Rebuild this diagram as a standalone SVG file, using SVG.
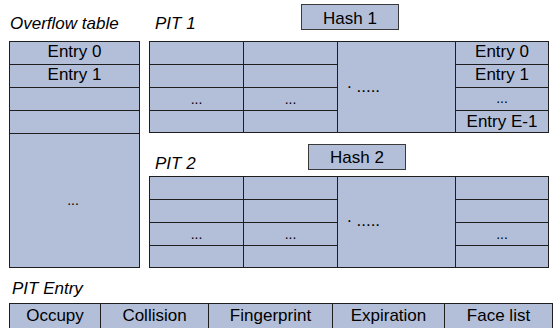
<svg xmlns="http://www.w3.org/2000/svg" width="553" height="328" viewBox="0 0 553 328">
<style>
.c{fill:#B3BFD9;stroke:#1e1e1e;stroke-width:1}
.h{fill:#B3BFD9;stroke:#3a3a3a;stroke-width:1}
.l{stroke:#1e1e1e;stroke-width:1;fill:none}
text{font-family:"Liberation Sans",Arial,sans-serif;fill:#000}
.t{font-size:17px;text-anchor:middle}
.i{font-size:17px;font-style:italic}
.d{font-size:14px;text-anchor:middle}
.m{font-size:17px}
</style>
<rect width="553" height="328" fill="#fff"/>
<text class="i" x="10" y="29">Overflow table</text>
<text class="i" x="155" y="29">PIT 1</text>
<text class="i" x="155" y="169">PIT 2</text>
<text class="i" x="12" y="294">PIT Entry</text>

<g id="overflow">
<rect class="c" x="9.5" y="41.5" width="130" height="226"/>
<path class="l" d="M9.5 64.5H139.5M9.5 87.5H139.5M9.5 110.5H139.5M9.5 133.5H139.5"/>
<text class="t" x="74.5" y="57">Entry 0</text>
<text class="t" x="74.5" y="80">Entry 1</text>
<text class="d" x="73" y="205">...</text>
</g>

<g id="hash1">
<rect class="h" x="301.5" y="4.5" width="97" height="25"/>
<text class="t" x="350" y="23.5">Hash 1</text>
</g>

<g id="pit1">
<rect class="c" x="149.5" y="41.5" width="399" height="91"/>
<path class="l" d="M243.5 41.5V132.5M337.5 41.5V132.5M455.5 41.5V132.5M149.5 64.5H337.5M149.5 87.5H337.5M149.5 110.5H337.5M455.5 64.5H548.5M455.5 87.5H548.5M455.5 110.5H548.5"/>
<text class="d" x="196.5" y="104">...</text>
<text class="d" x="290.5" y="104">...</text>
<text class="m" x="347" y="87.5">.<tspan dy="4"> .....</tspan></text>
<text class="t" x="502" y="57">Entry 0</text>
<text class="t" x="502" y="80">Entry 1</text>
<text class="d" x="502" y="103">...</text>
<text class="t" x="502" y="127">Entry E-1</text>
</g>

<g id="hash2">
<rect class="h" x="308.5" y="144.5" width="97" height="25"/>
<text class="t" x="357" y="163">Hash 2</text>
</g>

<g id="pit2">
<rect class="c" x="149.5" y="176.5" width="399" height="91"/>
<path class="l" d="M243.5 176.5V267.5M337.5 176.5V267.5M455.5 176.5V267.5M149.5 199.5H337.5M149.5 222.5H337.5M149.5 245.5H337.5M455.5 199.5H548.5M455.5 222.5H548.5M455.5 245.5H548.5"/>
<text class="d" x="196.5" y="239">...</text>
<text class="d" x="290.5" y="239">...</text>
<text class="m" x="347" y="222">.<tspan dy="4"> .....</tspan></text>
<text class="d" x="502" y="239">...</text>
</g>

<g id="pit-entry">
<rect class="c" x="9.5" y="303.5" width="543" height="25"/>
<path class="l" d="M100.5 303.5V328M208.5 303.5V328M332.5 303.5V328M444.5 303.5V328"/>
<text class="t" x="55" y="321">Occupy</text>
<text class="t" x="154.5" y="321">Collision</text>
<text class="t" x="270.5" y="321">Fingerprint</text>
<text class="t" x="388.5" y="321">Expiration</text>
<text class="t" x="498.5" y="321">Face list</text>
</g>
<g id="connectors"/>
</svg>
